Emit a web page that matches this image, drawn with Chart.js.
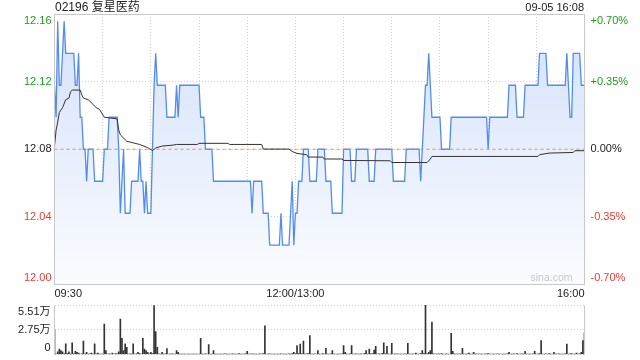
<!DOCTYPE html>
<html>
<head>
<meta charset="utf-8">
<script src="https://cdn.jsdelivr.net/npm/chart.js@4.4.1/dist/chart.umd.min.js"></script>
<style>
  html, body { margin: 0; padding: 0; background: #fff; }
  #wrap { position: relative; width: 640px; height: 360px; overflow: hidden; font-family: "Liberation Sans", Arial, "Noto Sans CJK SC", sans-serif; }
  canvas { position: absolute; left: 0; top: 0; }
  .head { position: absolute; top: 0; color: #222; white-space: nowrap; line-height: 15px; }
</style>
</head>
<body>
<div id="wrap">
  <canvas id="priceChart" width="640" height="360"></canvas>
  <canvas id="volChart" width="640" height="360"></canvas>
  <div class="head" style="left:55px; font-size:12px;">02196 复星医药</div>
  <div class="head" style="right:56px; font-size:11px;">09-05 16:08</div>
</div>
<script>
  const prevClose = 12.08;
  const pctTicks = [-0.70, -0.35, 0, 0.35, 0.70];
  const priceTickLabels = ["12.00", "12.04", "12.08", "12.12", "12.16"];
  const pctTickLabels = ["-0.70%", "-0.35%", "0.00%", "+0.35%", "+0.70%"];
  const timeTickMinutes = [0, 150, 330];
  const timeTickLabels = ["09:30", "12:00/13:00", "16:00"];
  const volTicks = [0, 2.75, 5.51];
  const volTickLabels = ["0", "2.75万", "5.51万"];

  // one price per minute, 09:30 .. 12:00 / 13:00 .. 16:00
  const price = [
    12.12, 12.10, 12.16, 12.12, 12.12, 12.14, 12.16, 12.14, 12.14, 12.14,
    12.14, 12.14, 12.14, 12.12, 12.12, 12.14, 12.10, 12.10, 12.08, 12.08,
    12.06, 12.08, 12.08, 12.08, 12.08, 12.06, 12.06, 12.06, 12.06, 12.06,
    12.06, 12.08, 12.08, 12.08, 12.10, 12.10, 12.10, 12.10, 12.10, 12.10,
    12.08, 12.04, 12.06, 12.08, 12.04, 12.04, 12.04, 12.04, 12.06, 12.06,
    12.06, 12.06, 12.06, 12.08, 12.06, 12.06, 12.04, 12.06, 12.04, 12.04,
    12.04, 12.08, 12.12, 12.14, 12.12, 12.12, 12.12, 12.12, 12.12, 12.12,
    12.10, 12.10, 12.10, 12.10, 12.10, 12.10, 12.12, 12.10, 12.12, 12.12,
    12.12, 12.12, 12.12, 12.12, 12.12, 12.12, 12.12, 12.12, 12.12, 12.12,
    12.12, 12.10, 12.10, 12.10, 12.08, 12.08, 12.08, 12.08, 12.08, 12.06,
    12.06, 12.06, 12.06, 12.06, 12.06, 12.06, 12.06, 12.06, 12.06, 12.06,
    12.06, 12.06, 12.06, 12.06, 12.06, 12.06, 12.06, 12.06, 12.06, 12.06,
    12.06, 12.06, 12.06, 12.04, 12.06, 12.06, 12.06, 12.06, 12.06, 12.06,
    12.04, 12.04, 12.04, 12.04, 12.02, 12.02, 12.02, 12.02, 12.02, 12.02,
    12.02, 12.04, 12.02, 12.02, 12.02, 12.02, 12.02, 12.04, 12.06, 12.02,
    12.04, 12.04, 12.06, 12.06, 12.06, 12.08, 12.08, 12.08, 12.08, 12.06,
    12.06, 12.06, 12.06, 12.06, 12.08, 12.08, 12.08, 12.08, 12.08, 12.06,
    12.06, 12.06, 12.06, 12.04, 12.04, 12.04, 12.04, 12.04, 12.04, 12.04,
    12.08, 12.08, 12.08, 12.08, 12.08, 12.06, 12.06, 12.06, 12.08, 12.08,
    12.08, 12.08, 12.08, 12.08, 12.08, 12.08, 12.06, 12.06, 12.06, 12.06,
    12.08, 12.08, 12.08, 12.08, 12.08, 12.08, 12.08, 12.08, 12.08, 12.08,
    12.08, 12.06, 12.06, 12.06, 12.06, 12.06, 12.06, 12.06, 12.06, 12.08,
    12.08, 12.08, 12.08, 12.08, 12.08, 12.08, 12.08, 12.08, 12.06, 12.08,
    12.10, 12.12, 12.12, 12.14, 12.12, 12.10, 12.10, 12.10, 12.10, 12.10,
    12.10, 12.08, 12.08, 12.08, 12.08, 12.08, 12.08, 12.10, 12.10, 12.10,
    12.10, 12.10, 12.10, 12.10, 12.10, 12.10, 12.10, 12.10, 12.10, 12.10,
    12.10, 12.10, 12.10, 12.10, 12.10, 12.10, 12.10, 12.10, 12.10, 12.10,
    12.08, 12.10, 12.10, 12.10, 12.10, 12.10, 12.10, 12.10, 12.10, 12.10,
    12.10, 12.10, 12.10, 12.12, 12.12, 12.12, 12.12, 12.12, 12.10, 12.10,
    12.10, 12.10, 12.10, 12.12, 12.12, 12.12, 12.12, 12.12, 12.12, 12.12,
    12.12, 12.12, 12.14, 12.14, 12.14, 12.14, 12.14, 12.12, 12.12, 12.12,
    12.12, 12.12, 12.12, 12.12, 12.12, 12.12, 12.12, 12.12, 12.12, 12.14,
    12.12, 12.10, 12.10, 12.14, 12.14, 12.14, 12.14, 12.14, 12.12, 12.12,
    12.12
  ];

  // average price line, read at the minutes where it bends
  const avgMinutes = [0, 1, 2, 3, 5, 7, 9, 10, 11, 16, 17, 18, 21, 24, 26, 28, 31, 39, 40, 41,
    45, 53, 58, 61, 63, 67, 74, 76, 89, 90, 108, 109, 129, 130, 146, 148, 151, 157, 158, 167,
    168, 179, 180, 209, 210, 232, 234, 235, 301, 302, 308, 323, 324, 330];
  const avgValues = [12.082, 12.092, 12.097, 12.103, 12.106, 12.111, 12.112, 12.116, 12.117, 12.117,
    12.114, 12.112, 12.111, 12.108, 12.106, 12.105, 12.100, 12.099, 12.092, 12.089,
    12.085, 12.083, 12.081, 12.0792, 12.0808, 12.082, 12.0826, 12.083, 12.083, 12.0837,
    12.0837, 12.083, 12.083, 12.0801, 12.0801, 12.0786, 12.0774, 12.0766, 12.0751, 12.0751,
    12.0739, 12.0739, 12.073, 12.0728, 12.0717, 12.0717, 12.0739, 12.0755, 12.0755, 12.0766,
    12.0776, 12.078, 12.0791, 12.0791];

  // volume per minute, in 万 shares
  const volume = [
    2.75, 0.06, 0.30, 0.60, 0.45, 0.30, 0.08, 1.20, 0.10, 0.30,
    0.05, 1.30, 0.08, 0.35, 0.25, 0.15, 0.06, 0.08, 1.50, 0.05,
    0.25, 0.06, 0.08, 0.15, 0.05, 1.20, 0.08, 0.15, 0.04, 0.06,
    0.05, 3.40, 0.45, 0.06, 0.08, 0.05, 0.15, 0.06, 0.10, 0.08,
    0.30, 3.95, 1.80, 0.45, 1.20, 0.80, 0.06, 0.08, 0.05, 1.20,
    0.06, 0.08, 0.25, 0.10, 0.06, 1.80, 0.60, 0.45, 0.25, 0.08,
    0.25, 0.10, 5.45, 2.55, 0.80, 0.08, 0.06, 0.25, 0.05, 0.08,
    0.65, 0.06, 0.05, 0.08, 0.04, 0.06, 0.45, 0.25, 0.05, 0.06,
    0.04, 0.05, 0.06, 0.04, 0.05, 0.06, 0.04, 0.05, 0.06, 0.05,
    0.06, 1.80, 0.05, 0.04, 0.08, 0.06, 1.10, 0.05, 0.06, 0.45,
    0.05, 0.04, 0.06, 0.05, 0.04, 0.06, 0.08, 0.05, 0.04, 0.06,
    0.05, 0.08, 0.04, 0.06, 0.05, 0.10, 0.04, 0.06, 0.05, 0.08,
    0.35, 0.05, 0.06, 0.08, 0.05, 0.04, 0.06, 0.05, 0.08, 0.06,
    0.10, 3.20, 0.06, 0.05, 0.08, 0.06, 0.04, 0.05, 0.06, 0.04,
    0.05, 0.08, 0.06, 0.04, 0.05, 0.06, 0.08, 0.05, 0.10, 0.25,
    0.08, 1.00, 0.10, 1.15, 0.08, 1.50, 0.06, 0.08, 0.10, 2.10,
    0.06, 0.05, 0.08, 0.06, 0.45, 0.05, 0.06, 0.10, 0.06, 0.70,
    0.05, 0.06, 0.08, 0.45, 0.05, 0.06, 0.04, 0.05, 0.06, 0.08,
    1.00, 0.25, 0.05, 0.06, 0.08, 1.00, 0.06, 0.05, 0.08, 0.06,
    0.05, 0.08, 0.06, 0.10, 0.45, 0.06, 0.60, 0.08, 0.10, 0.50,
    0.90, 0.06, 0.08, 0.05, 0.10, 1.30, 0.08, 0.90, 0.06, 0.05,
    1.25, 0.06, 0.05, 0.08, 0.06, 0.04, 0.05, 0.06, 0.08, 0.05,
    1.25, 0.06, 0.05, 0.08, 0.06, 0.15, 0.05, 0.06, 0.10, 0.45,
    0.10, 5.51, 0.08, 0.25, 0.45, 3.60, 0.08, 0.06, 0.05, 0.08,
    0.06, 0.10, 0.05, 0.06, 0.08, 0.05, 0.06, 2.36, 0.35, 0.08,
    0.05, 0.06, 0.08, 0.05, 0.70, 0.06, 0.05, 0.08, 0.15, 0.05,
    0.06, 0.25, 0.05, 0.08, 0.06, 0.05, 0.04, 0.06, 0.05, 0.08,
    0.10, 0.05, 0.06, 0.04, 0.05, 0.06, 0.08, 0.05, 0.06, 0.04,
    0.05, 0.06, 0.08, 0.25, 0.06, 0.05, 0.08, 0.06, 0.10, 0.05,
    0.06, 0.08, 0.05, 0.35, 0.06, 0.05, 0.04, 0.06, 0.08, 0.35,
    0.06, 0.05, 0.10, 1.55, 0.06, 0.05, 0.08, 0.06, 0.10, 0.05,
    0.06, 0.25, 0.05, 0.06, 0.08, 0.05, 0.06, 0.04, 0.08, 1.15,
    0.06, 0.08, 0.10, 0.06, 0.05, 0.15, 0.06, 0.08, 0.25, 1.55,
    2.40
  ];

  const lastMinute = price.length - 1;
  const upColor = "#1c9e1c";
  const downColor = "#f03a32";
  const textColor = "#222";
  const frameColor = "#c8c8c8";
  const labelFont = '11px "Liberation Sans", Arial, "Noto Sans CJK SC", sans-serif';

  function frame(ctx, a, sides) {
    ctx.save();
    ctx.strokeStyle = frameColor;
    ctx.lineWidth = 1;
    const l = Math.floor(a.left) + 0.5, r = Math.floor(a.right) + 0.5;
    const t = Math.floor(a.top) + 0.5, b = Math.floor(a.bottom) + 0.5;
    ctx.beginPath();
    if (sides.includes("t")) { ctx.moveTo(l, t); ctx.lineTo(r, t); }
    if (sides.includes("b")) { ctx.moveTo(l, b); ctx.lineTo(r, b); }
    if (sides.includes("l")) { ctx.moveTo(l, t); ctx.lineTo(l, b); }
    if (sides.includes("r")) { ctx.moveTo(r, t); ctx.lineTo(r, b); }
    ctx.stroke();
    ctx.restore();
  }

  function clampY(py, a) {
    return Math.min(Math.max(py, a.top + 7), a.bottom - 6.5);
  }

  const priceDecor = {
    id: "priceDecor",
    afterDraw(chart) {
      const { ctx, chartArea: a, scales: { x, y } } = chart;
      frame(ctx, a, "tblr");
      ctx.save();
      ctx.font = labelFont;
      ctx.textBaseline = "middle";
      pctTicks.forEach((p, i) => {
        const py = clampY(y.getPixelForValue(prevClose * (1 + p / 100)), a);
        ctx.fillStyle = p > 0 ? upColor : p < 0 ? downColor : textColor;
        ctx.textAlign = "right";
        ctx.fillText(priceTickLabels[i], a.left - 3, py);
        ctx.textAlign = "left";
        ctx.fillText(pctTickLabels[i], a.right + 6, py);
      });
      ctx.fillStyle = textColor;
      timeTickMinutes.forEach((m, i) => {
        ctx.textAlign = i === 0 ? "left" : i === timeTickMinutes.length - 1 ? "right" : "center";
        ctx.fillText(timeTickLabels[i], x.getPixelForValue(m), a.bottom + 9);
      });
      ctx.font = '10.5px "Liberation Sans", Arial, sans-serif';
      ctx.fillStyle = "#c6c6c6";
      ctx.textAlign = "right";
      ctx.fillText("sina.com", a.right - 12, a.bottom - 6);
      ctx.restore();
    }
  };

  const volDecor = {
    id: "volDecor",
    afterDraw(chart) {
      const { ctx, chartArea: a, scales: { y } } = chart;
      frame(ctx, a, "lr");
      ctx.save();
      ctx.font = labelFont;
      ctx.textBaseline = "middle";
      ctx.textAlign = "right";
      ctx.fillStyle = textColor;
      volTicks.forEach((v, i) => {
        ctx.fillText(volTickLabels[i], a.left - 4, clampY(y.getPixelForValue(v), a));
      });
      ctx.restore();
    }
  };

  const dotted = { color: "#cfcfcf", drawTicks: false, lineWidth: 1 };

  new Chart(document.getElementById("priceChart"), {
    type: "line",
    data: {
      datasets: [
        {
          data: avgMinutes.map((m, i) => ({ x: m, y: avgValues[i] })),
          borderColor: "#333",
          borderWidth: 1,
          pointRadius: 0,
          fill: false,
        },
        {
          data: [{ x: 0, y: prevClose }, { x: lastMinute, y: prevClose }],
          borderColor: "#e98a55",
          borderWidth: 1,
          borderDash: [3, 3],
          pointRadius: 0,
          fill: false,
        },
        {
          data: price.map((p, i) => ({ x: i, y: p })),
          borderColor: "#538cef",
          borderWidth: 1.3,
          pointRadius: 0,
          tension: 0,
          fill: "start",
          backgroundColor: (c) => {
            const area = c.chart.chartArea;
            if (!area) return "#e4edfc";
            const g = c.chart.ctx.createLinearGradient(0, area.top, 0, area.bottom);
            g.addColorStop(0, "#d2e1fa");
            g.addColorStop(1, "#fbfcff");
            return g;
          },
        },
      ],
    },
    options: {
      responsive: false,
      animation: false,
      events: [],
      layout: { padding: { left: 54.5, right: 55.5, top: 14, bottom: 75.5 } },
      plugins: { legend: { display: false }, tooltip: { enabled: false }, filler: { drawTime: "beforeDatasetsDraw" } },
      scales: {
        x: {
          type: "linear", min: 0, max: lastMinute,
          ticks: { display: false, stepSize: 30 },
          grid: dotted,
          border: { display: false, dash: [1, 2] },
          afterFit: (s) => { s.height = 0; },
        },
        y: {
          min: prevClose * (1 + pctTicks[0] / 100),
          max: prevClose * (1 + pctTicks[pctTicks.length - 1] / 100),
          ticks: { display: false },
          grid: dotted,
          border: { display: false, dash: [1, 2] },
          afterBuildTicks: (s) => { s.ticks = pctTicks.map((p) => ({ value: prevClose * (1 + p / 100) })); },
          afterFit: (s) => { s.width = 0; },
        },
      },
    },
    plugins: [priceDecor],
  });

  new Chart(document.getElementById("volChart"), {
    type: "bar",
    data: {
      datasets: [{
        data: volume.map((v, i) => ({ x: i, y: v })),
        backgroundColor: "#333",
        barThickness: 1,
        grouped: false,
      }],
    },
    options: {
      responsive: false,
      animation: false,
      events: [],
      layout: { padding: { left: 54.5, right: 55.5, top: 305, bottom: 5.5 } },
      plugins: { legend: { display: false }, tooltip: { enabled: false } },
      scales: {
        x: {
          type: "linear", min: 0, max: lastMinute, offset: false,
          ticks: { display: false },
          grid: { display: false, offset: false },
          border: { display: false },
          afterFit: (s) => { s.height = 0; },
        },
        y: {
          min: 0, max: volTicks[volTicks.length - 1],
          ticks: { display: false },
          grid: dotted,
          border: { display: false, dash: [1, 2] },
          afterBuildTicks: (s) => { s.ticks = volTicks.map((v) => ({ value: v })); },
          afterFit: (s) => { s.width = 0; },
        },
      },
    },
    plugins: [volDecor],
  });
</script>
</body>
</html>
